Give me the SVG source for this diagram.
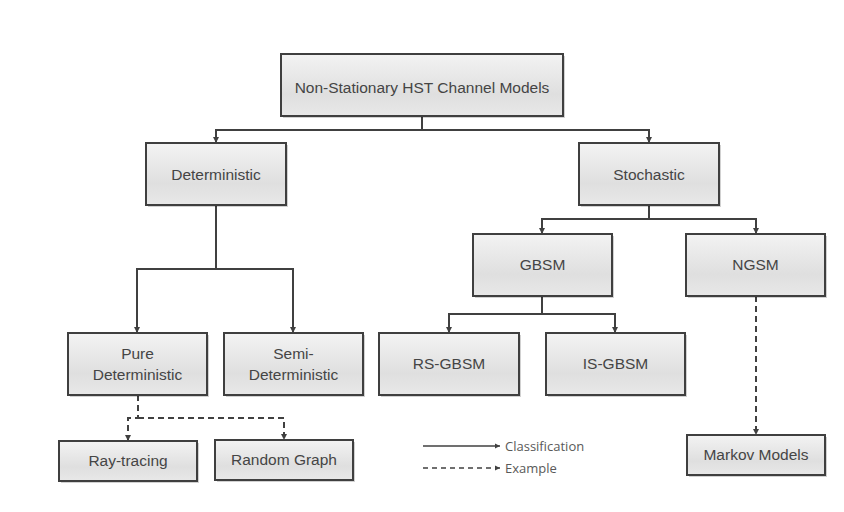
<svg xmlns="http://www.w3.org/2000/svg" width="844" height="512" viewBox="0 0 844 512">
<style>
.box{fill:url(#g);stroke:#3f3f3f;stroke-width:2}
.sh{fill:#000;opacity:0.18}
.t{font-family:"Liberation Sans",Arial,sans-serif;font-size:15.5px;fill:#454545;text-anchor:middle}
.lg{font-family:"Open Sans","Liberation Sans",sans-serif;font-size:13px;fill:#595959}
.c{fill:none;stroke:#404040;stroke-width:2}
.d{fill:none;stroke:#404040;stroke-width:2;stroke-dasharray:6 4}
</style>
<defs>
<linearGradient id="g" x1="0" y1="0" x2="0" y2="1">
<stop offset="0" stop-color="#f3f3f3"/>
<stop offset="0.65" stop-color="#dfdfdf"/>
<stop offset="1" stop-color="#e8e8e8"/>
</linearGradient>
<marker id="a" viewBox="0 0 10 10" refX="10" refY="5" markerWidth="3.2" markerHeight="3.2" orient="auto" markerUnits="strokeWidth">
<path d="M0,0 L10,5 L0,10 Z" fill="#404040"/>
</marker>
</defs>
<rect width="844" height="512" fill="#fff"/>
<g id="connectors">
<path class="c" d="M422,116 V130 H216 V143" marker-end="url(#a)"/>
<path class="c" d="M422,130 H649 V143" marker-end="url(#a)"/>
<path class="c" d="M216,205 V269 H137 V333" marker-end="url(#a)"/>
<path class="c" d="M216,269 H293 V333" marker-end="url(#a)"/>
<path class="c" d="M649,205 V219 H542 V234" marker-end="url(#a)"/>
<path class="c" d="M649,219 H756 V234" marker-end="url(#a)"/>
<path class="c" d="M542,296 V314 H449 V333" marker-end="url(#a)"/>
<path class="c" d="M542,314 H615 V333" marker-end="url(#a)"/>
<path class="d" d="M138,395 V418 H128 V441" marker-end="url(#a)"/>
<path class="d" d="M138,418 H284 V440" marker-end="url(#a)"/>
<path class="d" d="M756,296 V435" marker-end="url(#a)"/>
</g>
<g id="root">
<rect class="sh" x="283" y="56" width="282" height="62"/>
<rect class="box" x="281" y="54" width="282" height="62"/>
<text class="t" x="422" y="92.5">Non-Stationary HST Channel Models</text>
</g>
<g id="deterministic">
<rect class="sh" x="148" y="145" width="140" height="62"/>
<rect class="box" x="146" y="143" width="140" height="62"/>
<text class="t" x="216" y="179.5">Deterministic</text>
</g>
<g id="stochastic">
<rect class="sh" x="581" y="145" width="140" height="62"/>
<rect class="box" x="579" y="143" width="140" height="62"/>
<text class="t" x="649" y="179.5">Stochastic</text>
</g>
<g id="pure">
<rect class="sh" x="70" y="335" width="139" height="62"/>
<rect class="box" x="68" y="333" width="139" height="62"/>
<text class="t" x="137.5" y="358.5">Pure</text>
<text class="t" x="137.5" y="379.5">Deterministic</text>
</g>
<g id="semi">
<rect class="sh" x="226" y="335" width="139" height="62"/>
<rect class="box" x="224" y="333" width="139" height="62"/>
<text class="t" x="293.5" y="358.5">Semi-</text>
<text class="t" x="293.5" y="379.5">Deterministic</text>
</g>
<g id="gbsm">
<rect class="sh" x="475" y="236" width="139" height="62"/>
<rect class="box" x="473" y="234" width="139" height="62"/>
<text class="t" x="542.5" y="270">GBSM</text>
</g>
<g id="ngsm">
<rect class="sh" x="688" y="236" width="139" height="62"/>
<rect class="box" x="686" y="234" width="139" height="62"/>
<text class="t" x="755.5" y="270">NGSM</text>
</g>
<g id="rsgbsm">
<rect class="sh" x="381" y="335" width="140" height="62"/>
<rect class="box" x="379" y="333" width="140" height="62"/>
<text class="t" x="449" y="368.5">RS-GBSM</text>
</g>
<g id="isgbsm">
<rect class="sh" x="548" y="335" width="139" height="62"/>
<rect class="box" x="546" y="333" width="139" height="62"/>
<text class="t" x="615.5" y="368.5">IS-GBSM</text>
</g>
<g id="raytracing">
<rect class="sh" x="61" y="443" width="138" height="40"/>
<rect class="box" x="59" y="441" width="138" height="40"/>
<text class="t" x="128" y="465.5">Ray-tracing</text>
</g>
<g id="randomgraph">
<rect class="sh" x="217" y="442" width="138" height="40"/>
<rect class="box" x="215" y="440" width="138" height="40"/>
<text class="t" x="284" y="464.5">Random Graph</text>
</g>
<g id="markov">
<rect class="sh" x="689" y="437" width="138" height="40"/>
<rect class="box" x="687" y="435" width="138" height="40"/>
<text class="t" x="756" y="459.5">Markov Models</text>
</g>
<g id="legend">
<path class="c" d="M423,446 H500" marker-end="url(#a)" style="stroke-width:1.6"/>
<path class="d" d="M423,468 H500" marker-end="url(#a)" style="stroke-width:1.6;stroke-dasharray:5 4"/>
<text class="lg" x="505" y="450.5">Classification</text>
<text class="lg" x="505" y="472.5">Example</text>
</g>
</svg>
